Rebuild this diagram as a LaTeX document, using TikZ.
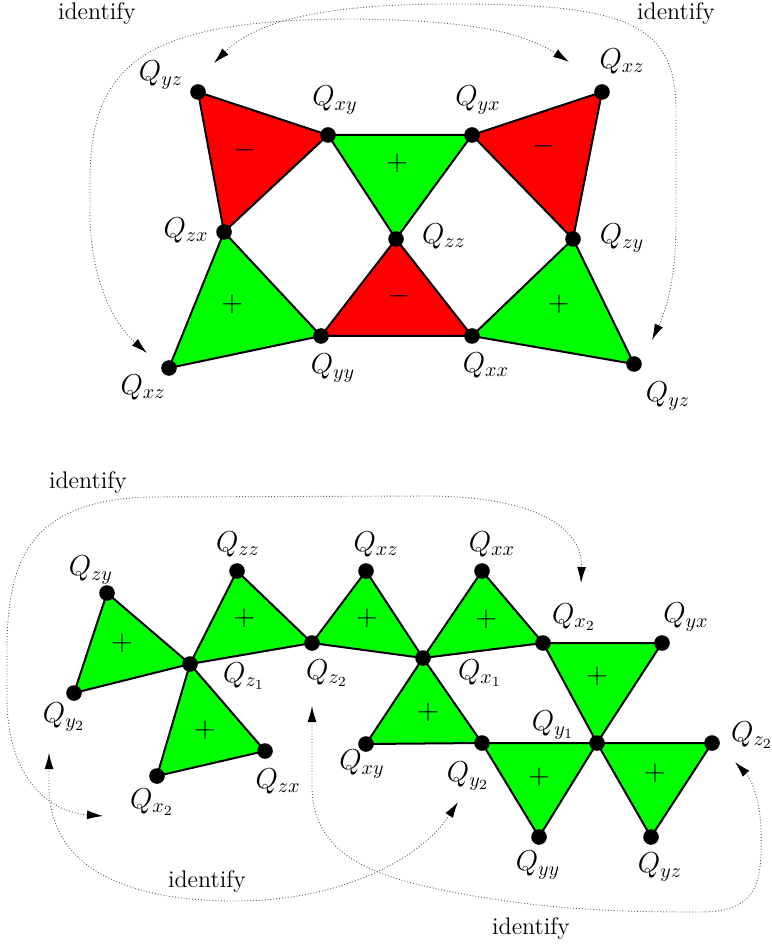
\documentclass[tikz,border=0pt]{standalone}
\usetikzlibrary{arrows.meta}
\definecolor{tred}{RGB}{255,0,0}
\definecolor{tgreen}{RGB}{0,255,0}
\begin{document}
\begin{tikzpicture}[x=0.5pt,y=-0.5pt,
  dot/.style={circle,fill=black,inner sep=0pt,minimum size=7.8pt},
  redtri/.style={fill=tred,draw=black,line width=1pt,line join=round},
  greentri/.style={fill=tgreen,draw=black,line width=1pt,line join=round},
  lbl/.style={inner sep=0pt,font=\fontsize{14.4}{17}\selectfont},
  sign/.style={inner sep=0pt,font=\fontsize{14.4}{17}\selectfont},
  idt/.style={inner sep=0pt,font=\fontsize{12}{14}\selectfont},
  ident/.style={densely dotted,line width=0.45pt,draw=black!65,
    {Latex[length=8pt,width=4.5pt,color=black]}-{Latex[length=8pt,width=4.5pt,color=black]}}]
\useasboundingbox (0,0) rectangle (771,945);

% ---------- top diagram ----------
\coordinate (tA) at (198,92);
\coordinate (tB) at (328,135);
\coordinate (tC) at (472,135);
\coordinate (tD) at (602,92);
\coordinate (tE) at (224,232);
\coordinate (tF) at (396,239);
\coordinate (tG) at (573,239);
\coordinate (tH) at (321,336);
\coordinate (tI) at (472,336);
\coordinate (tJ) at (169,368);
\coordinate (tK) at (634,364);

\filldraw[redtri] (tA) -- (tB) -- (tE) -- cycle;
\filldraw[greentri] (tB) -- (tC) -- (tF) -- cycle;
\filldraw[redtri] (tC) -- (tD) -- (tG) -- cycle;
\filldraw[greentri] (tE) -- (tH) -- (tJ) -- cycle;
\filldraw[redtri] (tF) -- (tH) -- (tI) -- cycle;
\filldraw[greentri] (tG) -- (tI) -- (tK) -- cycle;

\foreach \p in {tA,tB,tC,tD,tE,tF,tG,tH,tI,tJ,tK}
  \node[dot] (d\p) at (\p) {};

\node[sign] (s1) at (245,150) {$-$};
\node[sign] (s2) at (397,163) {$+$};
\node[sign] (s3) at (544,146) {$-$};
\node[sign] (s4) at (232,304) {$+$};
\node[sign] (s5) at (400,296) {$-$};
\node[sign] (s6) at (559,304) {$+$};

\node[lbl] (lA) at (161,75) {$Q_{yz}$};
\node[lbl] (lB) at (335,100) {$Q_{xy}$};
\node[lbl] (lC) at (478,100) {$Q_{yx}$};
\node[lbl] (lD) at (622,61) {$Q_{xz}$};
\node[lbl] (lE) at (186,230) {$Q_{zx}$};
\node[lbl] (lF) at (444,236) {$Q_{zz}$};
\node[lbl] (lG) at (622,238) {$Q_{zy}$};
\node[lbl] (lH) at (333,368) {$Q_{yy}$};
\node[lbl] (lI) at (486,365) {$Q_{xx}$};
\node[lbl] (lJ) at (143,387) {$Q_{xz}$};
\node[lbl] (lK) at (668,396) {$Q_{yz}$};

\node[idt] (i1) at (97,14) {identify};
\node[idt] (i2) at (676,14) {identify};

\coordinate (a1s) at (214,63);
\coordinate (a1e) at (652,340);
\draw[ident] (a1s) .. controls (255,22) and (320,4) .. (450,4)
  .. controls (620,4) and (676,20) .. (676,110) -- (676,220)
  .. controls (676,280) and (666,310) .. (a1e);
\coordinate (a2s) at (569,62);
\coordinate (a2e) at (147,353);
\draw[ident] (a2s) .. controls (520,30) and (460,20) .. (350,19)
  .. controls (150,20) and (90,60) .. (90,180) -- (90,220)
  .. controls (92,280) and (112,322) .. (a2e);

% ---------- bottom diagram ----------
\coordinate (bA) at (107,593);
\coordinate (bB) at (237,571);
\coordinate (bC) at (366,571);
\coordinate (bD) at (482,571);
\coordinate (bE) at (190,664);
\coordinate (bF) at (312,643);
\coordinate (bG) at (423,658);
\coordinate (bH) at (543,643);
\coordinate (bI) at (662,643);
\coordinate (bJ) at (74,693);
\coordinate (bK) at (157,776);
\coordinate (bL) at (265,751);
\coordinate (bM) at (366,744);
\coordinate (bN) at (482,743);
\coordinate (bO) at (597,743);
\coordinate (bP) at (712,743);
\coordinate (bQ) at (539,837);
\coordinate (bR) at (651,837);

\filldraw[greentri] (bA) -- (bE) -- (bJ) -- cycle;
\filldraw[greentri] (bE) -- (bB) -- (bF) -- cycle;
\filldraw[greentri] (bE) -- (bL) -- (bK) -- cycle;
\filldraw[greentri] (bF) -- (bC) -- (bG) -- cycle;
\filldraw[greentri] (bG) -- (bD) -- (bH) -- cycle;
\filldraw[greentri] (bG) -- (bN) -- (bM) -- cycle;
\filldraw[greentri] (bH) -- (bI) -- (bO) -- cycle;
\filldraw[greentri] (bN) -- (bO) -- (bQ) -- cycle;
\filldraw[greentri] (bO) -- (bP) -- (bR) -- cycle;

\foreach \p in {bA,bB,bC,bD,bE,bF,bG,bH,bI,bJ,bK,bL,bM,bN,bO,bP,bQ,bR}
  \node[dot] (d\p) at (\p) {};

\node[sign] (p1) at (122,643) {$+$};
\node[sign] (p2) at (244,618) {$+$};
\node[sign] (p3) at (367,618) {$+$};
\node[sign] (p4) at (486,619) {$+$};
\node[sign] (p5) at (597,676) {$+$};
\node[sign] (p6) at (205,730) {$+$};
\node[sign] (p7) at (428,712) {$+$};
\node[sign] (p8) at (539,777) {$+$};
\node[sign] (p9) at (655,773) {$+$};

\node[lbl] (mA) at (91,570) {$Q_{zy}$};
\node[lbl] (mB) at (238,544) {$Q_{zz}$};
\node[lbl] (mC) at (376,544) {$Q_{xz}$};
\node[lbl] (mD) at (492,544) {$Q_{xx}$};
\node[lbl] (mE) at (244,676) {$Q_{z_1}$};
\node[lbl] (mF) at (327,673) {$Q_{z_2}$};
\node[lbl] (mG) at (480,673) {$Q_{x_1}$};
\node[lbl] (mH) at (574,617) {$Q_{x_2}$};
\node[lbl] (mI) at (686,617) {$Q_{yx}$};
\node[lbl] (mJ) at (64,717) {$Q_{y_2}$};
\node[lbl] (mK) at (152,802) {$Q_{x_2}$};
\node[lbl] (mL) at (278,781) {$Q_{zx}$};
\node[lbl] (mM) at (362,764) {$Q_{xy}$};
\node[lbl] (mN) at (468,776) {$Q_{y_2}$};
\node[lbl] (mO) at (553,725) {$Q_{y_1}$};
\node[lbl] (mP) at (752,735) {$Q_{z_2}$};
\node[lbl] (mQ) at (538,865) {$Q_{yy}$};
\node[lbl] (mR) at (660,867) {$Q_{yz}$};

\node[idt] (i3) at (88,482) {identify};
\node[idt] (i4) at (207,881) {identify};
\node[idt] (i5) at (531,928) {identify};

\coordinate (c1s) at (581,583);
\coordinate (c1e) at (103,816);
\draw[ident] (c1s) .. controls (583,530) and (540,497) .. (430,496) -- (150,497)
  .. controls (30,500) and (7,560) .. (7,650) -- (7,700)
  .. controls (8,780) and (50,812) .. (c1e);
\coordinate (c2s) at (49,753);
\coordinate (c2e) at (458,802);
\draw[ident] (c2s) -- (49,790) .. controls (52,870) and (130,902) .. (240,901)
  .. controls (340,900) and (420,860) .. (c2e);
\coordinate (c3s) at (312,706);
\coordinate (c3e) at (735,762);
\draw[ident] (c3s) -- (312,790) .. controls (315,860) and (380,880) .. (480,897)
  .. controls (560,910) and (620,912) .. (700,912)
  .. controls (760,912) and (762,880) .. (761,830)
  .. controls (760,800) and (752,780) .. (c3e);
\end{tikzpicture}
\end{document}
